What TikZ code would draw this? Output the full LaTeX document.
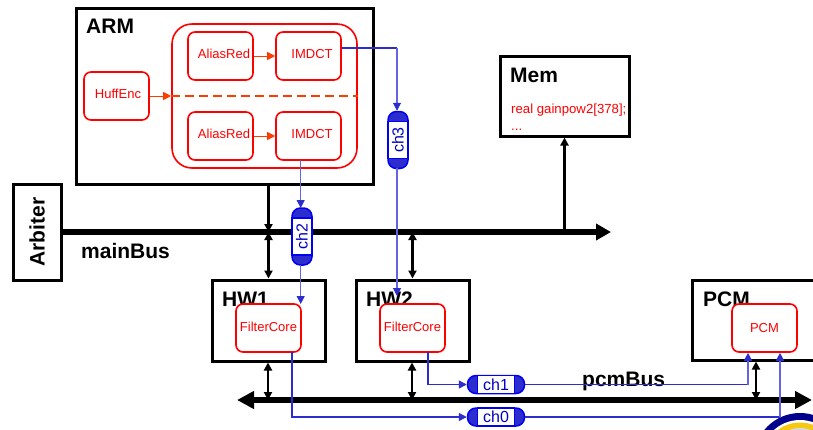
\documentclass[tikz,border=0pt]{standalone}
\usepackage{fontspec}
\setmainfont{Liberation Sans}
\usetikzlibrary{arrows.meta,calc}
\definecolor{redc}{RGB}{255,0,0}
\definecolor{oran}{RGB}{255,60,0}
\definecolor{blu}{RGB}{45,45,205}
\definecolor{blul}{RGB}{100,100,225}
\definecolor{edge}{RGB}{0,0,245}
\definecolor{navy}{RGB}{0,0,140}
\definecolor{gold}{RGB}{245,200,20}
\tikzset{
  x=1pt,y=-1pt,
  hwbox/.style={draw=black,line width=3pt,fill=white,minimum width=#1,inner sep=0pt},
  core/.style={draw=redc,line width=1.6pt,rounded corners=7pt,fill=white,text=redc,minimum width=65pt,minimum height=48pt,inner sep=0pt,font=\fontsize{13}{15}\selectfont},
  bigtext/.style={font=\bfseries\fontsize{21}{23}\selectfont,inner sep=0pt},
  title/.style={bigtext,anchor=base west},
  memtext/.style={anchor=base west,inner sep=0pt,text=redc,font=\fontsize{13.2}{15}\selectfont},
  busline/.style={line width=5.5pt},
  dbl/.style={line width=2.4pt,{Triangle[width=8pt,length=8pt]}-{Triangle[width=8pt,length=8pt]}},
  sgl/.style={line width=2.4pt,-{Triangle[width=8pt,length=8pt]}},
  redarr/.style={draw=oran,line width=.8pt,-{Triangle[width=8pt,length=8pt]}},
  bluethick/.style={draw=blu,line width=1.4pt},
  bluethin/.style={draw=blul,line width=1.1pt},
  tipb/.style={-{Triangle[width=8pt,length=8pt,color=blu]}},
  pillbody/.style={draw=edge,line width=1.5pt,fill=blu,rounded corners=8.5pt,inner sep=0pt},
  pillcore/.style={draw=edge,line width=1.4pt,fill=white,inner sep=0pt,text=edge!80!black,font=\fontsize{16}{18}\selectfont},
}
\newcommand{\lbl}[3]{\raisebox{#2}{\hspace*{#1}#3}}
\begin{document}
\begin{tikzpicture}
\useasboundingbox (0,0) rectangle (813,429);
% logo
\begin{scope}
\clip (0,0) rectangle (813,429);
\fill[navy] (800,459) circle (46);
\fill[white] (800,459) circle (39);
\fill[gold] (800,459) circle (36.5);
\fill[black!15] (800,459) circle (31);
\end{scope}
% labels behind connectors
\node[title] (pcmlabel) at (582,386) {pcmBus};
\node[title] (mainlabel) at (81,258) {mainBus};
% outer boxes
\node[hwbox=297pt,minimum height=176pt] (arm) at (224.5,96) {};
\node[title] (armt) at (86,33) {ARM};
\node[hwbox=129pt,minimum height=80pt] (mem) at (564.5,96) {};
\node[title] (memt) at (510,82) {Mem};
\node[memtext] (memc) at (511,113) {real gainpow2[378];};
\node[memtext] (memd) at (511,130) {...};
\node[hwbox=48pt,minimum height=96pt] (arb) at (37,232) {};
\node[bigtext,rotate=90] (arbt) at (37,232) {Arbiter};
\node[hwbox=113pt,minimum height=81pt] (hw1) at (268.5,320.5) {};
\node[hwbox=113pt,minimum height=81pt] (hw2) at (412.5,320.5) {};
\node[hwbox=130pt,minimum height=80pt] (pcm) at (757,320) {};
\node[title] (hw1t) at (222,306) {HW1};
\node[title] (hw2t) at (366,306) {HW2};
\node[title] (pcmt) at (703,306) {PCM};
% ARM interior
\node[draw=redc,line width=1.6pt,rounded corners=20pt,minimum width=185pt,minimum height=144pt,inner sep=0pt] (grp) at (264.5,96) {};
\node[core] (al1) at (220.5,56) {\lbl{7pt}{4pt}{AliasRed}};
\node[core] (im1) at (308.5,56) {\lbl{7pt}{4pt}{IMDCT}};
\node[core] (al2) at (220.5,136) {\lbl{7pt}{4pt}{AliasRed}};
\node[core] (im2) at (308.5,136) {\lbl{7pt}{4pt}{IMDCT}};
\node[core] (huff) at (116.5,96) {\lbl{3pt}{4pt}{HuffEnc}};
\draw[redarr] (al1.east) -- (im1.west);
\draw[redarr] (al2.east) -- (im2.west);
\draw[redarr,line width=1pt] (huff.east) -- (grp.west);
\draw[draw=oran,line width=1.5pt,dash pattern=on 9pt off 5pt] (grp.west) -- (grp.east);
% cores
\node[core] (fc1) at (268.5,328) {\lbl{0pt}{3pt}{FilterCore}};
\node[core] (fc2) at (412.5,328) {\lbl{0pt}{3pt}{FilterCore}};
\node[core] (pc) at (764.5,328) {\lbl{0pt}{-4pt}{PCM}};
% buses
\coordinate (mbl) at (61,232);
\coordinate (mbr) at (611,232);
\coordinate (pbl) at (237,400);
\coordinate (pbr) at (812,400);
\draw[busline,-{Triangle[width=16pt,length=15pt]}] (mbl) -- (mbr);
\draw[busline,{Triangle[width=17pt,length=17pt]}-{Triangle[width=17pt,length=17pt]}] (pbl) -- (pbr);
% black arrows
\coordinate (b1) at (268.5,232);
\coordinate (b2) at (412.5,232);
\coordinate (b3) at (564.5,232);
\coordinate (p1) at (268,400);
\coordinate (p2) at (412,400);
\coordinate (p3) at (756,400);
\draw[sgl] (arm.south -| b1) -- (b1);
\draw[dbl] (b1) -- (hw1.north);
\draw[dbl] (b2) -- (hw2.north);
\draw[sgl] (b3) -- (mem.south);
\draw[dbl] (hw1.south -| p1) -- (p1);
\draw[dbl] (hw2.south -| p2) -- (p2);
\draw[dbl] (pcm.south -| p3) -- (p3);
% channels
\node[pillbody,minimum width=20pt,minimum height=57pt] (ch3) at (398,140) {};
\node[pillcore,minimum width=20pt,minimum height=37pt] (ch3t) at (398,140) {\rotatebox{90}{ch3}};
\node[pillbody,minimum width=20pt,minimum height=57pt] (ch2) at (302,236.5) {};
\node[pillcore,minimum width=20pt,minimum height=37pt] (ch2t) at (302,236.5) {\rotatebox{90}{ch2}};
\node[pillbody,minimum width=57pt,minimum height=18pt] (ch1) at (496,384.5) {};
\node[pillcore,minimum width=37pt,minimum height=18pt] (ch1t) at (496,384.5) {ch1};
\node[pillbody,minimum width=57pt,minimum height=18pt] (ch0) at (496,417) {};
\node[pillcore,minimum width=37pt,minimum height=18pt] (ch0t) at (496,417) {ch0};
% blue connectors
\coordinate (c3a) at (397,48);
\coordinate (f1) at (292,352);
\coordinate (f2) at (428,352);
\draw[bluethick] (im1.east |- c3a) -- (c3a);
\draw[bluethin,tipb] (c3a) -- (c3a |- ch3.north);
\draw[bluethin,tipb] (300.7,160) -- (300.7,208);
\draw[bluethin,tipb] (300.7,265) -- (300.7,304);
\draw[bluethin,tipb] (397,168) -- (397,296);
\draw[bluethick,tipb] (f1) |- (ch0.west);
\draw[bluethick,tipb] (f2) |- (ch1.west);
\coordinate (r1) at (748,384);
\coordinate (r0) at (780,416);
\draw[bluethick] (ch1.east) -- (r1 |- ch1.east);
\draw[bluethin,line width=1.4pt,tipb] (r1 |- ch1.east) -- (r1 |- pc.south);
\draw[bluethick] (ch0.east) -- (r0 |- ch0.east);
\draw[bluethin,line width=1.4pt,tipb] (r0 |- ch0.east) -- (r0 |- pc.south);
\end{tikzpicture}
\end{document}
